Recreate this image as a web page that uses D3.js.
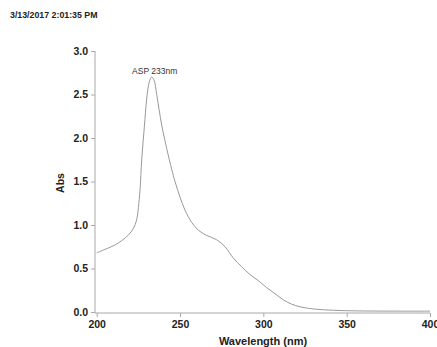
<!DOCTYPE html>
<html><head><meta charset="utf-8">
<script src="https://cdn.jsdelivr.net/npm/d3@7"></script>
<style>body{margin:0;background:#fff}svg{display:block}</style>
</head><body>
<svg id="c" width="437" height="347"></svg>
<script>
const wavelengths = [200,205,211,215,219,222,224,225,226,227,228.6,230,231.5,233,234.5,236,239,242,245,247,250,253,257,261,266,272,277,282,287,292,297,302,307,312,317,322,330,342,350,360,380,400];
const absorbance  = [0.68,0.72,0.77,0.82,0.885,0.96,1.06,1.2,1.40,1.75,2.13,2.45,2.64,2.70,2.66,2.50,2.15,1.88,1.64,1.50,1.32,1.17,1.03,0.94,0.88,0.83,0.75,0.62,0.52,0.43,0.36,0.28,0.21,0.14,0.09,0.06,0.035,0.02,0.015,0.012,0.01,0.01];
const xTicks = [200,250,300,350,400];
const yTicks = [0.0,0.5,1.0,1.5,2.0,2.5,3.0];
const timestamp = "3/13/2017 2:01:35 PM";
const peakLabel = "ASP 233nm";
const peakWavelength = 233;
const peakAbs = 2.70;

const svg = d3.select("#c");
const x = d3.scaleLinear().domain([200,400]).range([96.7,430]);
const y = d3.scaleLinear().domain([0,3]).range([312,51]);

svg.append("text").attr("x",10).attr("y",18).attr("font-family","Liberation Sans, Arial, sans-serif")
  .attr("font-size",8.8).attr("font-weight","bold").attr("fill","#222").text(timestamp);

const xa = svg.append("g").attr("transform","translate(0,313)")
  .call(d3.axisBottom(x).tickValues(xTicks).tickSize(4).tickSizeOuter(0).tickFormat(d3.format("d")));
xa.select(".domain").attr("d","M95,0H430").attr("stroke","#aaa");
const ya = svg.append("g").attr("transform","translate(95,0)")
  .call(d3.axisLeft(y).tickValues(yTicks).tickSize(4).tickSizeOuter(0).tickFormat(d3.format(".1f")));
ya.select(".domain").attr("d","M0,51V313").attr("stroke","#aaa");
[xa,ya].forEach(g=>{
  g.selectAll(".tick line").attr("stroke","#aaa");
  g.selectAll(".tick text").attr("font-family","Liberation Sans, Arial, sans-serif")
   .attr("font-size",10.5).attr("font-weight","bold").attr("fill","#222");
});
xa.selectAll(".tick text").attr("dy","0.71em").attr("y",8);
ya.selectAll(".tick text").attr("x",-7);

svg.append("text").attr("x",263).attr("y",345).attr("text-anchor","middle")
  .attr("font-family","Liberation Sans, Arial, sans-serif").attr("font-size",11).attr("font-weight","bold")
  .attr("fill","#222").text("Wavelength (nm)");
svg.append("text").attr("transform","translate(64,183) rotate(-90)").attr("text-anchor","middle")
  .attr("font-family","Liberation Sans, Arial, sans-serif").attr("font-size",10.5).attr("font-weight","bold")
  .attr("fill","#222").text("Abs");

const data = wavelengths.map((w,i)=>[w,absorbance[i]]);
svg.append("path").datum(data)
  .attr("d", d3.line().x(d=>x(d[0])).y(d=>y(d[1])).curve(d3.curveCatmullRom.alpha(0.5)))
  .attr("fill","none").attr("stroke","#999").attr("stroke-width",1);

svg.append("text").attr("x",x(peakWavelength)+3).attr("y",y(peakAbs)-3).attr("text-anchor","middle")
  .attr("font-family","Liberation Sans, Arial, sans-serif").attr("font-size",8.5).attr("fill","#333")
  .text(peakLabel);
</script>
</body></html>
